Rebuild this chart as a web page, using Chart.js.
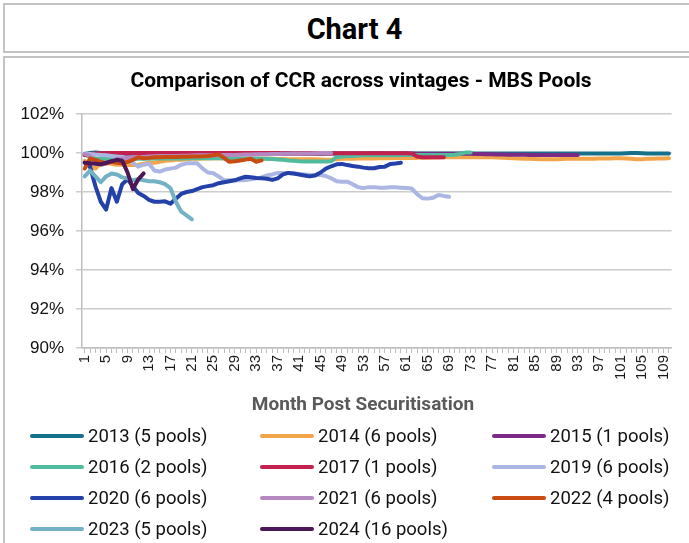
<!DOCTYPE html>
<html>
<head>
<meta charset="utf-8">
<script src="https://cdn.jsdelivr.net/npm/chart.js@4"></script>
<style>
  html, body { margin: 0; padding: 0; background: #fff; width: 689px; height: 543px; overflow: hidden; }
  #topbox { position: absolute; left: 3px; top: 3px; width: 720px; height: 46px; border: 2px solid #c3c3c3;
    font-family: Roboto, "Liberation Sans", sans-serif; font-weight: bold; font-size: 29px; color: #000; }
  #topbox span { position: absolute; left: 0; width: 699px; top: 7px; text-align: center; }
  #mainbox { position: absolute; left: 3px; top: 56px; width: 720px; height: 520px; border-top: 2px solid #c3c3c3; border-left: 2px solid #c3c3c3; }
  #c { position: absolute; left: 0; top: 57px; }
</style>
</head>
<body>
<div id="topbox"><span>Chart 4</span></div>
<div id="mainbox"></div>
<canvas id="c" width="689" height="486"></canvas>
<script>
const chartTitle = "Comparison of CCR across vintages - MBS Pools";
const xAxisTitle = "Month Post Securitisation";
const months = [];
for (let m = 1; m <= 110; m++) months.push(String(m));
const yTicks = [90, 92, 94, 96, 98, 100, 102];

const seriesNames = ["2013 (5 pools)", "2014 (6 pools)", "2015 (1 pools)", "2016 (2 pools)", "2017 (1 pools)",
  "2019 (6 pools)", "2020 (6 pools)", "2021 (6 pools)", "2022 (4 pools)", "2023 (5 pools)", "2024 (16 pools)"];
const seriesColors = ["#15708a", "#f2a54a", "#7b2a86", "#50bc9d", "#c2214f", "#abb6e2", "#2440a9", "#b688c2", "#c84b12", "#72b2c4", "#4d1657"];

const v2013 = [99.95,100.0,100.02,100.0,99.98,99.98,100.0,99.98,99.97,99.98,99.98,99.99,100.0,99.99,99.98,99.98,99.98,99.99,100.0,100.0,
  99.99,99.98,99.98,99.98,99.99,100.0,99.99,99.98,99.98,99.98,99.99,99.99,100.0,99.99,99.98,99.98,99.98,99.98,99.99,99.99,
  99.99,99.98,99.98,99.98,99.98,99.99,99.99,99.98,99.98,99.98,99.98,99.98,99.98,99.98,99.99,99.99,99.98,99.98,99.98,99.98,
  99.98,99.98,99.97,99.97,99.98,99.98,99.98,99.98,99.98,99.98,99.98,99.97,99.97,99.97,99.98,99.98,99.98,99.98,99.98,99.97,
  99.97,99.97,99.97,99.97,99.98,99.98,99.98,99.98,99.98,99.97,99.97,99.97,99.98,99.98,99.98,99.98,99.98,99.98,99.98,99.98,
  99.98,99.99,100.0,100.0,99.99,99.98,99.98,99.98,99.98,99.98];
const v2014 = [99.6,99.3,99.2,99.5,99.5,99.45,99.4,99.4,99.38,99.38,99.4,99.45,99.5,99.5,99.55,99.6,99.62,99.65,99.65,99.68,
  99.7,99.7,99.72,99.72,99.73,99.73,99.72,99.72,99.7,99.7,99.7,99.7,99.7,99.7,99.7,99.7,99.69,99.69,99.68,99.68,
  99.68,99.68,99.68,99.68,99.67,99.66,99.66,99.68,99.7,99.7,99.71,99.72,99.72,99.72,99.72,99.73,99.73,99.73,99.74,99.74,
  99.74,99.75,99.75,99.76,99.76,99.77,99.77,99.78,99.78,99.78,99.78,99.78,99.78,99.78,99.78,99.78,99.78,99.77,99.75,99.74,
  99.73,99.72,99.71,99.7,99.69,99.68,99.68,99.68,99.68,99.69,99.7,99.7,99.7,99.7,99.71,99.71,99.72,99.72,99.72,99.73,
  99.73,99.72,99.7,99.68,99.68,99.7,99.71,99.72,99.72,99.73];
const v2015 = [99.9,99.93,99.95,99.96,99.97,99.97,99.97,99.97,99.97,99.97,99.97,99.97,99.97,99.97,99.97,99.97,99.97,99.97,99.97,99.97,
  99.97,99.97,99.97,99.97,99.97,99.97,99.97,99.97,99.97,99.97,99.97,99.97,99.97,99.97,99.97,99.97,99.97,99.97,99.97,99.97,
  99.97,99.97,99.97,99.97,99.97,99.97,99.97,99.97,99.97,99.97,99.97,99.97,99.97,99.97,99.97,99.97,99.97,99.97,99.97,99.97,
  99.97,99.97,99.96,99.96,99.96,99.96,99.96,99.96,99.96,99.96,99.96,99.96,99.96,99.95,99.95,99.94,99.93,99.92,99.92,99.91,
  99.91,99.91,99.91,99.9,99.9,99.9,99.9,99.9,99.9,99.9,99.9,99.9,99.9];
const v2016 = [99.9,99.8,99.72,99.7,99.7,99.7,99.69,99.68,99.68,99.69,99.7,99.7,99.71,99.72,99.72,99.72,99.72,99.72,99.72,99.73,
  99.73,99.73,99.73,99.73,99.73,99.73,99.73,99.72,99.72,99.72,99.72,99.72,99.72,99.71,99.7,99.69,99.67,99.65,99.62,99.6,
  99.58,99.57,99.57,99.56,99.56,99.56,99.58,99.8,99.82,99.84,99.85,99.87,99.88,99.88,99.88,99.89,99.89,99.89,99.89,99.9,
  99.9,99.9,99.9,99.9,99.9,99.9,99.9,99.9,99.9,99.91,99.95,100.02,100.03];
const v2017 = [99.9,99.95,99.98,99.99,100.0,100.0,100.0,100.0,100.0,100.0,100.0,100.0,100.0,100.0,100.0,100.0,100.0,100.0,100.0,100.0,
  100.0,100.0,100.0,100.0,100.0,100.0,100.0,100.0,100.0,100.0,100.0,100.0,100.0,100.0,100.0,100.0,100.0,99.99,99.99,99.99,
  99.99,99.99,99.99,99.99,99.99,99.99,99.99,99.99,99.99,99.99,99.99,99.99,99.99,99.99,99.99,99.99,99.99,99.99,99.99,99.99,
  99.99,99.98,99.82,99.78,99.78,99.78,99.78,99.78];
const v2019 = [99.98,99.95,99.92,99.9,99.88,99.85,99.82,99.8,99.7,99.5,99.3,99.4,99.45,99.1,99.05,99.15,99.2,99.25,99.4,99.47,
  99.47,99.47,99.2,99.0,98.96,98.8,98.6,98.6,98.6,98.6,98.62,98.65,98.7,98.75,98.85,98.9,98.98,98.98,98.97,98.95,
  98.92,98.9,98.88,98.87,98.87,98.82,98.7,98.55,98.53,98.53,98.4,98.25,98.2,98.25,98.25,98.22,98.22,98.24,98.24,98.22,
  98.2,98.18,97.9,97.68,97.66,97.7,97.85,97.8,97.76];
const v2020 = [99.5,99.3,98.3,97.5,97.1,98.2,97.5,98.4,98.65,98.3,97.95,97.8,97.6,97.5,97.5,97.52,97.4,97.65,97.9,98.0,
  98.05,98.15,98.25,98.3,98.35,98.45,98.5,98.55,98.6,98.7,98.78,98.76,98.72,98.7,98.68,98.62,98.7,98.9,98.98,98.95,
  98.9,98.85,98.8,98.85,99.0,99.2,99.32,99.42,99.44,99.38,99.33,99.3,99.25,99.22,99.22,99.28,99.3,99.44,99.46,99.5];
const v2021 = [99.95,99.85,99.5,99.4,99.45,99.55,99.7,99.72,99.75,99.78,99.8,99.8,99.82,99.83,99.84,99.85,99.85,99.85,99.86,99.86,
  99.87,99.88,99.88,99.88,99.88,99.89,99.9,99.9,99.9,99.91,99.92,99.92,99.93,99.93,99.94,99.95,99.95,99.96,99.96,99.97,
  99.97,99.98,99.98,99.99,100.0,100.0,100.0];
const v2022 = [99.2,99.72,99.65,99.55,99.47,99.55,99.5,99.47,99.55,99.65,99.78,99.73,99.75,99.78,99.78,99.8,99.8,99.8,99.81,99.81,
  99.82,99.82,99.83,99.85,99.88,99.93,99.75,99.55,99.58,99.62,99.66,99.7,99.55,99.62];
const v2023 = [98.8,99.1,98.8,98.5,98.8,98.95,98.9,98.75,98.7,98.6,98.65,98.6,98.55,98.55,98.5,98.4,98.2,97.5,97.0,96.8,96.6];
const v2024 = [99.5,99.48,99.45,99.42,99.5,99.58,99.65,99.6,99.0,98.15,98.65,98.95];

const seriesValues = [v2013, v2014, v2015, v2016, v2017, v2019, v2020, v2021, v2022, v2023, v2024];

const datasets = seriesNames.map((name, i) => ({
  label: name,
  data: seriesValues[i],
  borderColor: seriesColors[i],
  backgroundColor: seriesColors[i],
  borderWidth: 4,
  pointRadius: 0,
  pointHoverRadius: 0,
  tension: 0,
  fill: false,
  borderJoinStyle: 'round',
  borderCapStyle: 'round',
  order: seriesNames.length - i
}));

const textPlugin = {
  id: 'texts',
  afterDraw(chart) {
    const ctx = chart.ctx;
    ctx.save();
    ctx.fillStyle = '#000';
    ctx.font = 'bold 21px Roboto, "Liberation Sans", sans-serif';
    ctx.textAlign = 'center';
    ctx.textBaseline = 'middle';
    ctx.fillText(chartTitle, 361, 25);
    ctx.fillStyle = '#595959';
    ctx.font = 'bold 19px Roboto, "Liberation Sans", sans-serif';
    ctx.fillText(xAxisTitle, 363, 348);
    const colX = [30, 260, 492];
    const rowY = [379, 410, 441, 472];
    ctx.textAlign = 'left';
    ctx.font = '18.5px Roboto, "Liberation Sans", sans-serif';
    chart.data.datasets.forEach((ds, i) => {
      const x = colX[i % 3], y = rowY[Math.floor(i / 3)];
      ctx.strokeStyle = ds.borderColor;
      ctx.lineWidth = 4;
      ctx.lineCap = 'round';
      ctx.beginPath();
      ctx.moveTo(x + 2, y);
      ctx.lineTo(x + 52, y);
      ctx.stroke();
      ctx.fillStyle = '#111';
      ctx.fillText(ds.label, x + 58, y + 1);
    });
    ctx.restore();
  }
};

new Chart(document.getElementById('c'), {
  type: 'line',
  data: { labels: months, datasets: datasets },
  options: {
    responsive: false,
    animation: false,
    layout: { padding: { top: 57, right: 16, bottom: 135, left: 0 } },
    plugins: { legend: { display: false }, title: { display: false }, tooltip: { enabled: false } },
    scales: {
      x: {
        type: 'category',
        offset: true,
        afterFit(s) { s.height = 60; },
        grid: { display: true, drawOnChartArea: false, drawTicks: true, tickLength: 5, color: '#bdbdbd', tickColor: '#bdbdbd', lineWidth: 1 },
        border: { display: true, color: '#bdbdbd', width: 1.5 },
        ticks: {
          autoSkip: false, maxRotation: 90, minRotation: 90, padding: 2,
          color: '#1a1a1a',
          font: { family: '"Liberation Sans", Arial, sans-serif', size: 15 },
          callback(value, index) { return index % 4 === 0 ? months[index] : ''; }
        }
      },
      y: {
        min: yTicks[0], max: yTicks[yTicks.length - 1],
        afterFit(s) { s.width = 82; },
        afterBuildTicks(s) { s.ticks = yTicks.map(v => ({ value: v })); },
        grid: { color: '#cccccc', lineWidth: 1.5, tickLength: 6, drawTicks: true, tickColor: '#cccccc' },
        border: { display: true, color: '#bdbdbd', width: 1.5 },
        ticks: {
          padding: 12, color: '#111',
          font: { family: '"Liberation Sans", Arial, sans-serif', size: 17 },
          callback(v) { return v + '%'; }
        }
      }
    }
  },
  plugins: [textPlugin]
});
</script>
</body>
</html>
